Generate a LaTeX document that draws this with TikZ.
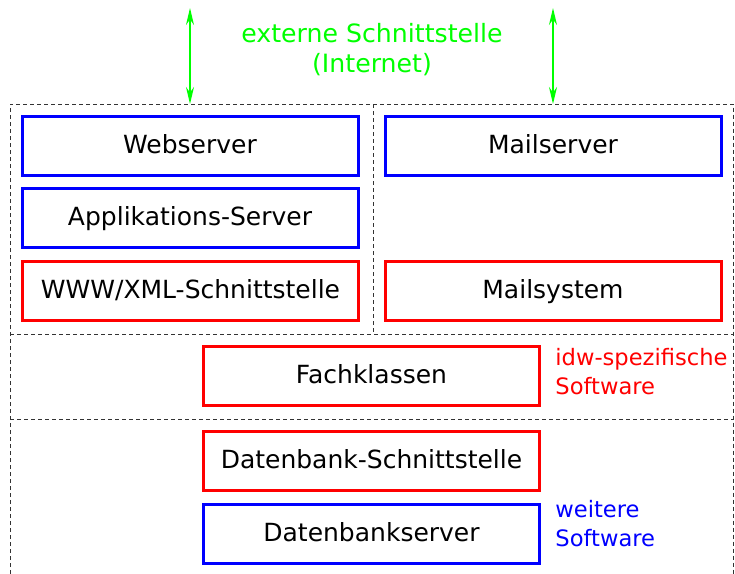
\documentclass[tikz,border=0pt]{standalone}
\usepackage{fontspec}
\setmainfont{DejaVu Sans}
\usetikzlibrary{arrows.meta,
	positioning}

\begin{document}
\begin{tikzpicture}[x=0.5pt, y=-0.5pt,
	box/.style={draw, line width=1.5pt, minimum width=168pt, minimum height=29.5pt, inner sep=0pt, text height=9.1pt, text depth=1.6pt, font=\fontsize{12.5}{15}\selectfont},
	idwbox/.style={box, draw=red},
	otherbox/.style={box, draw=blue},
	frame/.style={line width=0.5pt, black!80, dash pattern=on 2pt off 1.5pt},
	note/.style={align=left, anchor=west, inner sep=0pt, font=\fontsize{11.3}{14.5}\selectfont},
	netarrow/.style={green, line width=1pt, {Stealth[length=8.5pt,width=4pt]}-{Stealth[length=8.5pt,width=4pt]}}]
	\useasboundingbox (0,0) rectangle (735,574);
	% Rahmen
	\draw[frame] (10,574) -- (10,104) -- (733.5,104) -- (733.5,574);
	\draw[frame] (10,334) -- (733.5,334);
	\draw[frame] (10,419) -- (733.5,419);
	\draw[frame] (373,104) -- (373,334);
	% Kaesten
	\node[otherbox] (web) at (190,145.5) {Webserver};
	\node[otherbox] (app) at (190,218) {Applikations-Server};
	\node[idwbox] (www) at (190.5,290.5) {WWW/XML-Schnittstelle};
	\node[otherbox] (mail) at (553,145.5) {Mailserver};
	\node[idwbox] (mailsys) at (553,290.5) {Mailsystem};
	\node[idwbox] (fach) at (371.5,375.5) {Fachklassen};
	\node[idwbox] (dbif) at (371.5,460.5) {Datenbank-Schnittstelle};
	\node[otherbox] (db) at (371.5,533.5) {Datenbankserver};
	% Legende
	\node[note, text=red] (idw) at (555,372) {idw-spezifische\\Software};
	\node[note, text=blue] (other) at (555,524) {weitere\\Software};
	% externe Schnittstelle
	\node[align=center, text=green, font=\fontsize{12.6}{15}\selectfont] (ext) at (372,50) {externe Schnittstelle\\(Internet)};
	\coordinate (netL) at (190,8);
	\coordinate (netR) at (553,8);
	\coordinate (topL) at (190,104);
	\coordinate (topR) at (553,104);
	\draw[netarrow] (netL) -- (topL);
	\draw[netarrow] (netR) -- (topR);
\end{tikzpicture}
\end{document}
